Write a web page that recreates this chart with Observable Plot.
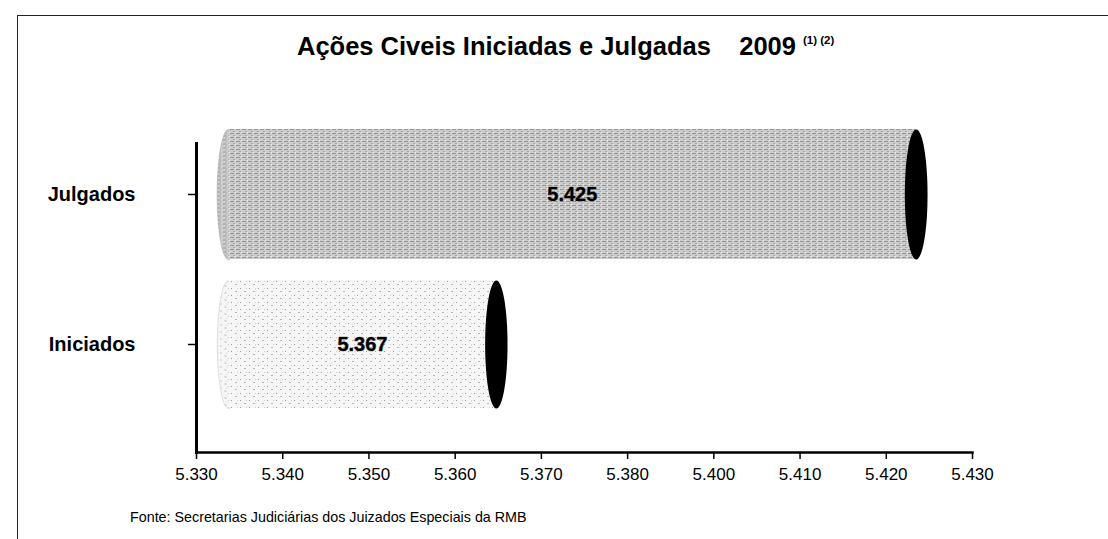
<!DOCTYPE html>
<html>
<head>
<meta charset="utf-8">
<script src="https://cdn.jsdelivr.net/npm/d3@7"></script>
<script src="https://cdn.jsdelivr.net/npm/@observablehq/plot@0.6"></script>
<style>
  html, body { margin: 0; padding: 0; background: #fff; }
  #wrap { position: relative; width: 1108px; height: 539px; overflow: hidden; font-family: "Liberation Sans", Arial, sans-serif; color: #000; }
  .fl { position: absolute; background: #222; }
  #title { position: absolute; left: 297px; top: 34px; font-size: 25.5px; line-height: 25px; font-weight: bold; white-space: pre; }
  #title sup { font-size: 11.5px; vertical-align: 0; position: relative; top: -11px; margin-left: 7px; }
  #chart { position: absolute; left: 0; top: 0; }
  #foot { position: absolute; left: 130px; top: 510px; font-size: 14.3px; line-height: 14px; white-space: pre; }
</style>
</head>
<body>
<div id="wrap">
  <div class="fl" style="left:17px;top:15px;right:0;height:1px"></div>
  <div class="fl" style="left:17px;top:15px;width:1px;bottom:0"></div>
  <div id="title"></div>
  <div id="chart"></div>
  <div id="foot"></div>
</div>
<script>
const titleText = "Ações Civeis Iniciadas e Julgadas    2009";
const titleNotes = "(1) (2)";
const sourceText = "Fonte: Secretarias Judiciárias dos Juizados Especiais da RMB";

const categories = ["Julgados", "Iniciados"];
const values = [5425, 5367];
const valueLabels = ["5.425", "5.367"];
const tickLabels = ["5.330", "5.340", "5.350", "5.360", "5.370", "5.380", "5.400", "5.410", "5.420", "5.430"];
const xMin = 5330;
const xMax = 5437.2;

const t = document.getElementById("title");
t.appendChild(document.createTextNode(titleText));
const sup = document.createElement("sup");
sup.textContent = titleNotes;
t.appendChild(sup);
document.getElementById("foot").textContent = sourceText;

const data = categories.map((c, i) => ({cat: c, value: values[i], label: valueLabels[i]}));
const ticks = tickLabels.map((_, i) => xMin + i * (xMax - xMin) / (tickLabels.length - 1));

// ellipse symbol (3D cylinder cap)
const ellipse = {
  draw(ctx, size) {
    const ry = Math.sqrt(size / Math.PI);
    const rx = ry * 0.175;
    const k = 0.5523;
    ctx.moveTo(rx, 0);
    ctx.bezierCurveTo(rx, ry * k, rx * k, ry, 0, ry);
    ctx.bezierCurveTo(-rx * k, ry, -rx, ry * k, -rx, 0);
    ctx.bezierCurveTo(-rx, -ry * k, -rx * k, -ry, 0, -ry);
    ctx.bezierCurveTo(rx * k, -ry, rx, -ry * k, rx, 0);
    ctx.closePath();
  }
};

const depth = 32;
const isJ = d => d.cat === categories[0];
const isI = d => d.cat === categories[1];

const chart = Plot.plot({
  width: 1108,
  height: 500,
  marginLeft: 196,
  marginRight: 136,
  marginTop: 143,
  marginBottom: 48,
  style: {fontFamily: "'Liberation Sans', Arial, sans-serif", color: "#000", background: "transparent", overflow: "visible"},
  x: {domain: [xMin, xMax], label: null},
  y: {domain: categories, range: [119, 419], padding: 0, label: null},
  marks: [
    // left caps
    Plot.dot(data, {filter: isJ, x: xMin, y: "cat", dx: depth, r: 65, symbol: ellipse, fill: "url(#patJ)", stroke: "#aaa", strokeWidth: 0.6}),
    Plot.dot(data, {filter: isI, x: xMin, y: "cat", dx: depth, r: 64, symbol: ellipse, fill: "url(#patI)", stroke: "#ccc", strokeWidth: 0.6}),
    // bodies
    Plot.barX(data, {filter: isJ, x1: xMin, x2: "value", y: "cat", dx: depth, insetTop: 10, insetBottom: 10, fill: "url(#patJ)"}),
    Plot.barX(data, {filter: isI, x1: xMin, x2: "value", y: "cat", dx: depth, insetTop: 11, insetBottom: 11, fill: "url(#patI)"}),
    // end caps
    Plot.dot(data, {filter: isJ, x: "value", y: "cat", dx: depth, r: 65, symbol: ellipse, fill: "#000"}),
    Plot.dot(data, {filter: isI, x: "value", y: "cat", dx: depth, r: 64, symbol: ellipse, fill: "#000"}),
    // value labels
    Plot.text(data, {x: d => (xMin + d.value) / 2, y: "cat", dx: depth, text: "label", fontSize: 20, fontWeight: "bold", fill: "#000", stroke: "#555", strokeWidth: 0.6}),
    // axes
    Plot.frame({anchor: "bottom", strokeWidth: 2.5, stroke: "#000"}),
    Plot.frame({anchor: "left", strokeWidth: 3, stroke: "#000"}),
    Plot.axisX(ticks, {tickFormat: d => tickLabels[ticks.indexOf(d)], tickSize: 7, tickPadding: 8, fontSize: 17, strokeWidth: 1.5}),
    Plot.axisY({tickSize: 8, tickPadding: 53, fontSize: 20, fontWeight: "bold", strokeWidth: 1.5})
  ]
});

const defs = `<defs>
  <pattern id="patJ" patternUnits="userSpaceOnUse" width="6" height="4">
    <rect width="6" height="4" fill="#cdcdcd"/>
    <rect x="0" y="1" width="4" height="1" fill="#959595"/>
    <rect x="3" y="3" width="2" height="1" fill="#aaaaaa"/>
    <rect x="5" y="0" width="1" height="1" fill="#f0f0f0"/>
  </pattern>
  <pattern id="patI" patternUnits="userSpaceOnUse" width="9" height="7">
    <rect width="9" height="7" fill="#f6f6f6"/>
    <rect x="1" y="1" width="1" height="1" fill="#9a9a9a"/>
    <rect x="5" y="4" width="2" height="1" fill="#b5b5b5"/>
    <rect x="7" y="1" width="1" height="1" fill="#d0d0d0"/>
  </pattern>
</defs>`;
chart.insertAdjacentHTML("afterbegin", defs);
document.getElementById("chart").appendChild(chart);
</script>
</body>
</html>
